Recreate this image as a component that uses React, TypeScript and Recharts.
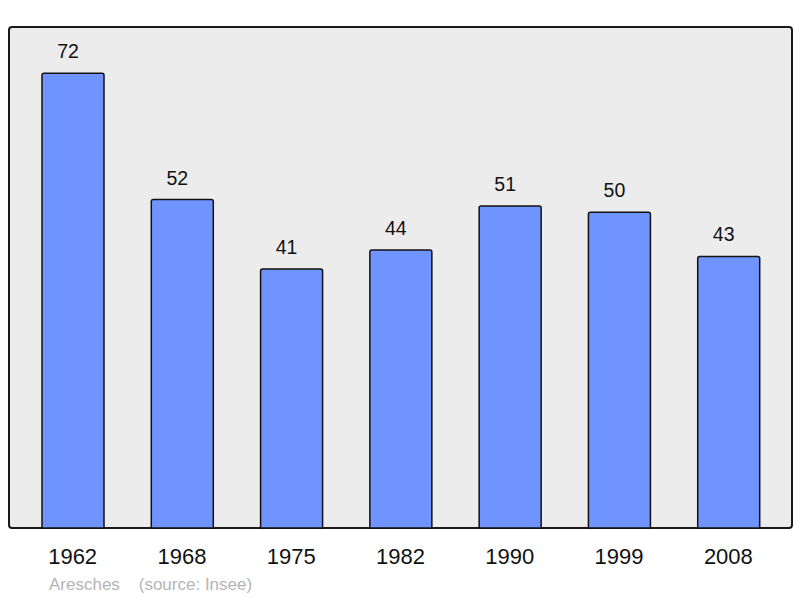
import React from "react";
import { BarChart, Bar, XAxis, YAxis, LabelList } from "recharts";

const years = ["1962", "1968", "1975", "1982", "1990", "1999", "2008"];
const population = [72, 52, 41, 44, 51, 50, 43];
const commune = "Aresches";
const source = "(source: Insee)";

const data = years.map((y, i) => ({ year: y, value: population[i] }));

const FONT = '"Liberation Sans", Arial, sans-serif';

export default function App() {
  return (
    <div style={{ position: "absolute", left: 0, top: 0, width: 800, height: 598, background: "#fff" }}>
      <div
        style={{
          position: "absolute",
          left: 8,
          top: 26,
          width: 781,
          height: 499,
          background: "#ececec",
          border: "2px solid #1a1a1a",
          borderRadius: 4,
        }}
      />
      <div style={{ position: "absolute", left: 0, top: 0 }}>
        <BarChart
          width={800}
          height={598}
          data={data}
          margin={{ top: 27, right: 8, left: 9, bottom: 0 }}
          style={{ fontFamily: FONT }}
        >
          <XAxis
            dataKey="year"
            height={70}
            axisLine={false}
            tickLine={false}
            tickSize={0}
            tickMargin={20}
            padding={{ left: 9, right: 9 }}
            tick={{ fill: "#111", fontSize: 22, fontFamily: FONT }}
            interval={0}
          />
          <YAxis hide domain={[0, 79.33]} type="number" />
          <Bar
            dataKey="value"
            fill="#7094ff"
            stroke="#111"
            strokeWidth={1.5}
            barSize={62}
            radius={[2, 2, 0, 0]}
            isAnimationActive={false}
          >
            <LabelList
              dataKey="value"
              position="top"
              offset={15}
              dx={-5}
              fill="#111"
              fontSize={19.5}
              fontFamily={FONT}
            />
          </Bar>
        </BarChart>
      </div>
      <div
        style={{
          position: "absolute",
          left: 49,
          top: 575,
          fontFamily: FONT,
          fontSize: 17,
          color: "#b5b5b5",
          whiteSpace: "pre",
          lineHeight: "20px",
        }}
      >
        {commune + "    " + source}
      </div>
    </div>
  );
}
